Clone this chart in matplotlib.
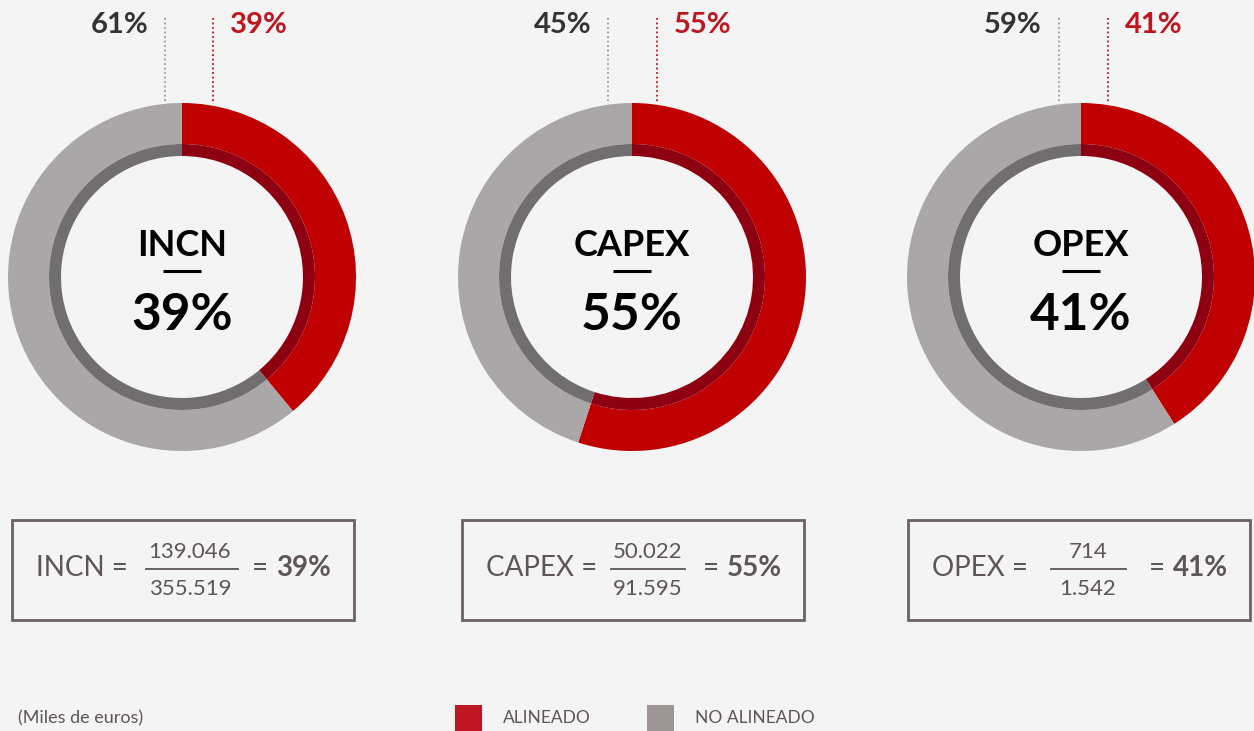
import matplotlib.pyplot as plt
from matplotlib.patches import Rectangle

# Taxonomy KPIs (miles de euros)
kpis = ["INCN", "CAPEX", "OPEX"]
aligned_pct = [39, 55, 41]
numerators = [139046, 50022, 714]
denominators = [355519, 91595, 1542]
legend_labels = ["ALINEADO", "NO ALINEADO"]
unit_note = "(Miles de euros)"

BG = "#f4f4f4"
RED = "#c00000"
RED_DARK = "#8c0012"
GREY = "#a9a7a8"
GREY_DARK = "#716e70"
TXT = "#5d5557"
LEG_RED = "#be1622"
LEG_GREY = "#9e9696"

W, H = 1254, 731
fig = plt.figure(figsize=(W / 100, H / 100), dpi=100, facecolor=BG)

R_OUT, R_MID, R_IN = 174, 133, 121
centers_x = [182, 632, 1081]
center_y = 277
guide_dx = [(-17, 31), (-24, 25), (-22, 27)]
boxes = [(12, 342), (462, 342), (908, 342)]


def fmt(v):
    return f"{v:,}".replace(",", ".")


# one square axes per donut, in pixel units
for cx, pct in zip(centers_x, aligned_pct):
    ax = fig.add_axes([(cx - R_OUT) / W, 1 - (center_y + R_OUT) / H,
                       2 * R_OUT / W, 2 * R_OUT / H])
    vals = [pct, 100 - pct]
    ax.pie(vals, colors=[RED, GREY], startangle=90, counterclock=False,
           radius=1, wedgeprops=dict(width=(R_OUT - R_MID) / R_OUT, linewidth=0))
    ax.pie(vals, colors=[RED_DARK, GREY_DARK], startangle=90, counterclock=False,
           radius=R_MID / R_OUT, wedgeprops=dict(width=(R_MID - R_IN) / R_OUT, linewidth=0))
    ax.set_xlim(-1, 1)
    ax.set_ylim(-1, 1)
    ax.set_aspect("equal")
    ax.axis("off")

# overlay for texts, guide lines and boxes
ov = fig.add_axes([0, 0, 1, 1], facecolor="none")
ov.set_xlim(0, W)
ov.set_ylim(H, 0)
ov.axis("off")

for i, (name, pct) in enumerate(zip(kpis, aligned_pct)):
    cx = centers_x[i]
    gx, rx = cx + guide_dx[i][0], cx + guide_dx[i][1]
    ov.plot([gx, gx], [18, 103], color="#9a9a9a", lw=1.3, ls=(0, (1, 1.5)))
    ov.plot([rx, rx], [18, 103], color="#c0141f", lw=1.3, ls=(0, (1, 1.5)))
    ov.text(gx - 17, 25, f"{100 - pct}%", ha="right", va="center",
            fontsize=21, fontweight="bold", color="#333333", family="Lato")
    ov.text(rx + 17, 25, f"{pct}%", ha="left", va="center",
            fontsize=21, fontweight="bold", color="#c0141f", family="Lato")

    # centre label
    ov.text(cx, 246, name, ha="center", va="center", fontsize=26,
            fontweight="bold", color="black", family="Lato")
    ov.plot([cx - 19, cx + 19], [271, 271], color="black", lw=2.2,
            solid_capstyle="butt")
    ov.text(cx, 315, f"{pct}%", ha="center", va="center", fontsize=37,
            fontweight="bold", color="black", family="Lato")

    # formula box
    bx, bw = boxes[i]
    ov.add_patch(Rectangle((bx, 520), bw, 100, fill=False,
                           edgecolor="#6b6264", lw=2))
    ov.text(bx + 24, 568, f"{name} =", ha="left", va="center", fontsize=20,
            color=TXT, family="Lato")

positions = [
    # (fraction center x, bar x0, bar x1, "=" x)
    (190, 146, 238, 252),
    (648, 611, 685, 703),
    (1088, 1051, 1126, 1149),
]
for i, (fx, b0, b1, ex) in enumerate(positions):
    ov.text(fx, 552, fmt(numerators[i]), ha="center", va="center",
            fontsize=16, color=TXT, family="Lato")
    ov.plot([b0, b1], [569, 569], color=TXT, lw=1.3)
    ov.text(fx, 589, fmt(denominators[i]), ha="center", va="center",
            fontsize=16, color=TXT, family="Lato")
    ov.text(ex, 568, "=", ha="left", va="center", fontsize=20,
            color=TXT, family="Lato")
    ov.text(ex + 24, 568, f"{aligned_pct[i]}%", ha="left", va="center",
            fontsize=20, fontweight="bold", color=TXT, family="Lato")

# footer: unit note and legend
ov.text(18, 718, unit_note, ha="left", va="center", fontsize=13,
        color=TXT, family="Lato")
for (lx, col), lab in zip([(455, LEG_RED), (647, LEG_GREY)], legend_labels):
    ov.add_patch(Rectangle((lx, 705), 27, 30, color=col, lw=0))
    ov.text(lx + 48, 718, lab, ha="left", va="center", fontsize=12.5,
            color=TXT, family="Lato")

fig.savefig("out.png", dpi=100, facecolor=BG)
